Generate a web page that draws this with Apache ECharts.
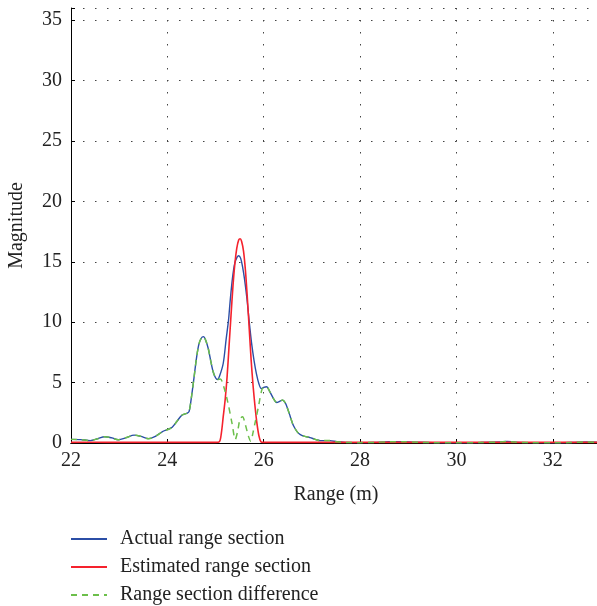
<!DOCTYPE html>
<html>
<head>
<meta charset="utf-8">
<script src="https://cdn.jsdelivr.net/npm/echarts@6/dist/echarts.min.js"></script>
<style>html,body{margin:0;padding:0;background:#fff}#c{width:597px;height:606px}</style>
</head>
<body>
<div id="c"></div>
<script>
const xTicks = [22, 24, 26, 28, 30, 32];
const yTicks = [0, 5, 10, 15, 20, 25, 30, 35];

const actualX = [22.0,22.2,22.4,22.55,22.7,22.85,22.98,23.15,23.31,23.45,23.61,23.75,23.9,24.0,24.1,24.2,24.3,24.4,24.45,24.5,24.55,24.6,24.65,24.7,24.75,24.8,24.85,24.9,24.95,25.0,25.04,25.08,25.16,25.22,25.27,25.3,25.35,25.4,25.45,25.48,25.52,25.56,25.6,25.65,25.7,25.75,25.8,25.85,25.9,25.95,26.0,26.06,26.12,26.2,26.27,26.33,26.39,26.45,26.5,26.55,26.6,26.65,26.7,26.76,26.85,26.96,27.07,27.17,27.3,27.38,27.52,27.7,28.0,28.3,28.6,28.9,29.2,29.5,30.0,30.5,30.9,31.05,31.2,31.5,32.0,32.4,32.7,33.0];
const actualY = [0.30,0.28,0.20,0.35,0.52,0.42,0.27,0.45,0.65,0.55,0.36,0.55,0.95,1.1,1.3,1.8,2.3,2.45,2.6,3.8,5.3,6.9,8.1,8.65,8.8,8.45,7.8,6.8,5.9,5.4,5.25,5.5,6.6,8.6,10.2,11.6,13.6,14.9,15.4,15.5,15.3,14.6,13.6,12.0,10.0,8.2,6.8,5.7,4.9,4.5,4.6,4.65,4.3,3.7,3.35,3.45,3.55,3.3,2.8,2.2,1.6,1.2,0.9,0.7,0.55,0.45,0.3,0.2,0.2,0.2,0.1,0.05,0.03,0.05,0.1,0.1,0.06,0.03,0.02,0.04,0.08,0.12,0.08,0.03,0.02,0.04,0.08,0.05];

const estimatedX = [22.0,22.5,23.0,23.5,24.0,24.5,25.0,25.08,25.12,25.16,25.2,25.24,25.28,25.32,25.36,25.4,25.44,25.48,25.51,25.54,25.58,25.62,25.66,25.7,25.74,25.78,25.82,25.86,25.9,25.94,26.0,26.5,27.0,28.0,29.0,30.0,31.0,32.0,33.0];
const estimatedY = [0.05,0.06,0.05,0.06,0.05,0.06,0.05,0.1,0.8,2.2,3.6,5.5,8.0,10.5,12.9,14.8,16.1,16.8,16.9,16.7,15.9,14.3,12.0,9.4,6.8,4.7,3.0,1.6,0.6,0.1,0.05,0.06,0.05,0.05,0.05,0.05,0.05,0.05,0.05];

const diffX = [22.0,22.2,22.4,22.55,22.7,22.85,22.98,23.15,23.31,23.45,23.61,23.75,23.9,24.0,24.1,24.2,24.3,24.4,24.45,24.5,24.55,24.6,24.65,24.7,24.75,24.8,24.85,24.9,24.95,25.0,25.04,25.1,25.16,25.25,25.34,25.41,25.46,25.51,25.56,25.62,25.68,25.73,25.78,25.82,25.89,25.96,26.0,26.06,26.12,26.2,26.27,26.33,26.39,26.45,26.5,26.55,26.6,26.65,26.7,26.76,26.85,26.96,27.07,27.17,27.3,27.38,27.52,27.7,28.0,28.3,28.6,28.9,29.2,29.5,30.0,30.5,30.9,31.05,31.2,31.5,32.0,32.4,32.7,33.0];
const diffY = [0.30,0.28,0.20,0.35,0.52,0.42,0.27,0.45,0.65,0.55,0.36,0.55,0.95,1.1,1.3,1.8,2.3,2.45,2.6,3.8,5.3,6.9,8.1,8.65,8.8,8.45,7.8,6.8,5.9,5.4,5.25,5.3,4.8,3.45,1.67,0.3,1.0,2.0,2.17,1.5,0.6,0.15,0.9,1.67,3.0,4.4,4.6,4.65,4.3,3.7,3.35,3.45,3.55,3.3,2.8,2.2,1.6,1.2,0.9,0.7,0.55,0.45,0.3,0.2,0.2,0.2,0.1,0.05,0.03,0.05,0.1,0.1,0.06,0.03,0.02,0.04,0.08,0.12,0.08,0.03,0.02,0.04,0.08,0.05];

const seriesNames = ['Actual range section', 'Estimated range section', 'Range section difference'];
const pair = (xs, ys) => xs.map((x, i) => [x, ys[i]]);

const font = 'Liberation Serif';
const fs = 20;
const chart = echarts.init(document.getElementById('c'));
chart.setOption({
  animation: false,
  backgroundColor: '#fff',
  grid: { left: 71, top: 8, width: 530, height: 435, containLabel: false, outerBoundsMode: 'none' },
  xAxis: [{
    type: 'value', min: 22, max: 33, interval: 2,
    name: 'Range (m)', nameLocation: 'middle', nameGap: 42,
    nameTextStyle: { fontFamily: font, fontSize: fs, color: '#222' },
    axisLine: { show: true, onZero: false, lineStyle: { color: '#000', width: 1 } },
    axisTick: { show: true, inside: true, length: 4, lineStyle: { color: '#000' } },
    axisLabel: { fontFamily: font, fontSize: fs, color: '#222', margin: 8,
      formatter: v => xTicks.includes(v) ? String(v) : '' },
    splitLine: { show: true, lineStyle: { color: '#444', type: [1.5, 10.5], width: 1 } }
  }, {
    type: 'value', position: 'top', min: 22, max: 33, interval: 2,
    axisLine: { show: true, lineStyle: { color: '#000', width: 1 } },
    axisTick: { show: false }, axisLabel: { show: false }, splitLine: { show: false }
  }],
  yAxis: {
    type: 'value', min: 0, max: 36, interval: 5,
    name: 'Magnitude', nameLocation: 'middle', nameGap: 44, nameRotate: 90,
    nameTextStyle: { fontFamily: font, fontSize: fs, color: '#222' },
    axisLine: { show: true, lineStyle: { color: '#000', width: 1 } },
    axisTick: { show: true, inside: true, length: 4, lineStyle: { color: '#000' } },
    axisLabel: { fontFamily: font, fontSize: fs, color: '#222', margin: 9,
      formatter: v => yTicks.includes(v) ? String(v) : '' },
    splitLine: { show: true, lineStyle: { color: '#444', type: [1.5, 10.5], width: 1 } }
  },
  legend: {
    orient: 'vertical', left: 70, top: 528, height: 90, padding: 0,
    data: seriesNames,
    itemWidth: 36, itemHeight: 14, itemGap: 6,
    itemStyle: { opacity: 0 },
    textStyle: { fontFamily: font, fontSize: fs, color: '#222', lineHeight: 22, padding: [0, 0, 0, 8] }
  },
  series: [
    { name: seriesNames[0], type: 'line', data: pair(actualX, actualY), smooth: 0.3, symbol: 'none',
      lineStyle: { color: '#2b4ea6', width: 1.4 }, itemStyle: { color: '#2b4ea6' }, z: 2 },
    { name: seriesNames[1], type: 'line', data: pair(estimatedX, estimatedY), smooth: 0.3, symbol: 'none',
      lineStyle: { color: '#f5222d', width: 1.6 }, itemStyle: { color: '#f5222d' }, z: 3 },
    { name: seriesNames[2], type: 'line', data: pair(diffX, diffY), smooth: 0.3, symbol: 'none',
      lineStyle: { color: '#6cbf4a', width: 1.5, type: [6, 5] }, itemStyle: { color: '#6cbf4a' }, z: 4 }
  ]
});
</script>
</body>
</html>
